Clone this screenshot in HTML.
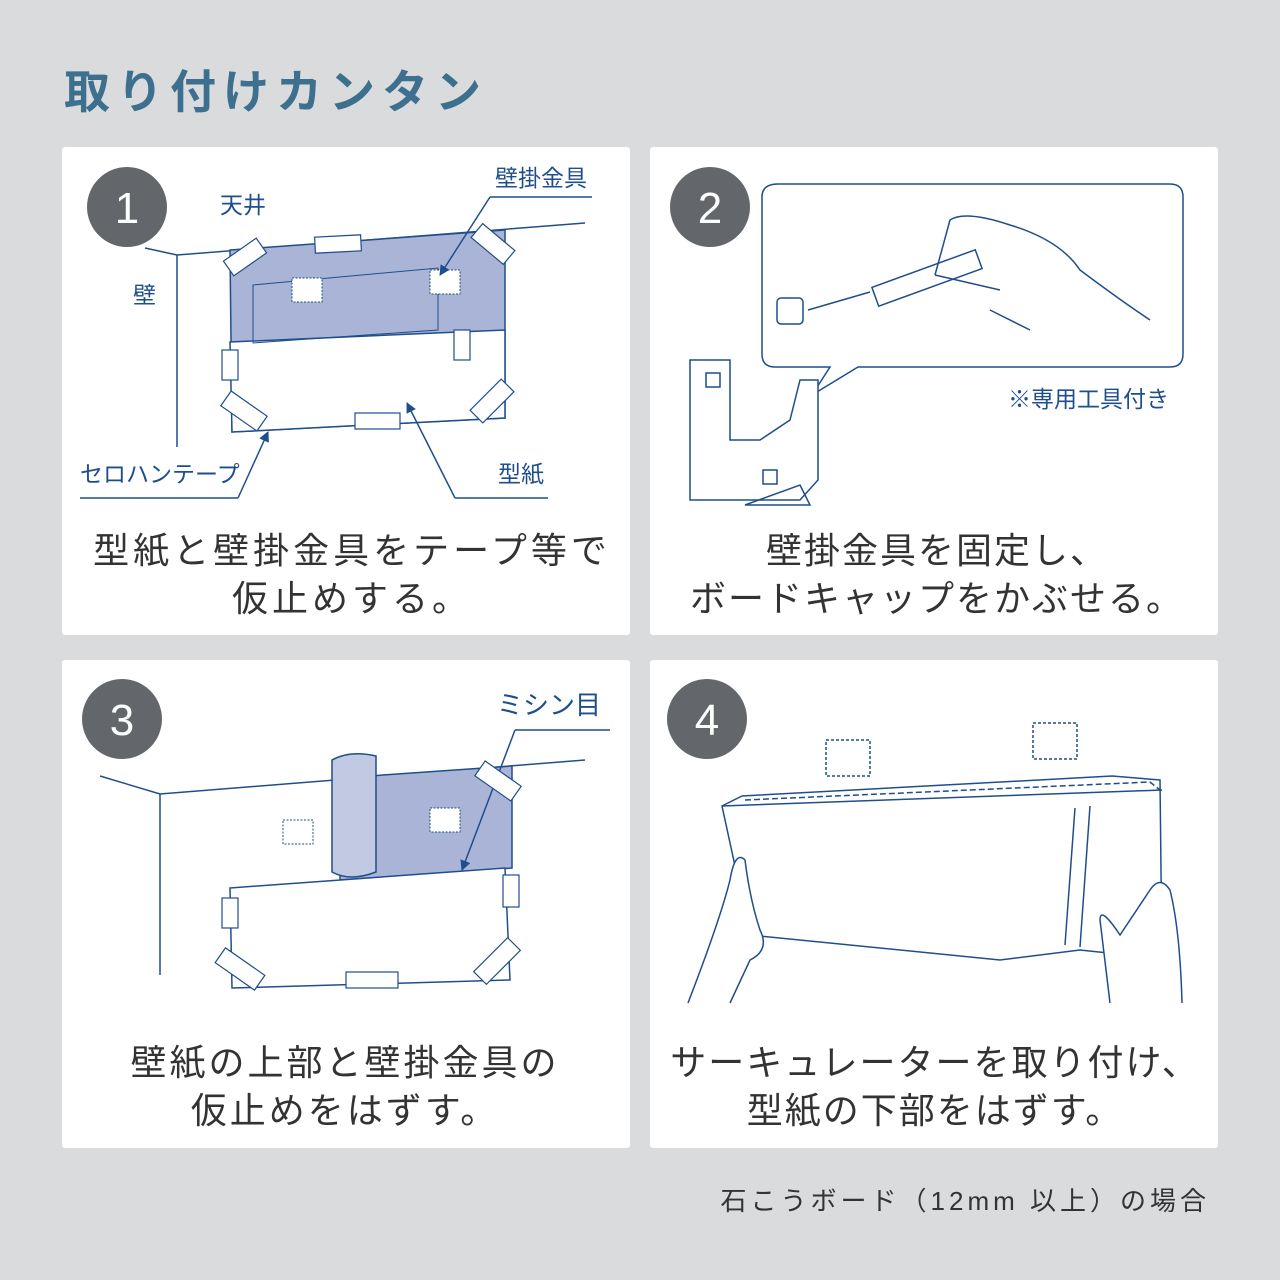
<!DOCTYPE html>
<html><head><meta charset="utf-8"><style>
html,body{margin:0;padding:0;background:#dadbdd;}
svg{display:block}
text{font-family:"Liberation Sans","Noto Sans CJK JP",sans-serif;}
</style></head><body>
<svg width="1280" height="1280" viewBox="0 0 1280 1280" xmlns="http://www.w3.org/2000/svg">
<defs><marker id="ah" viewBox="0 0 10 10" refX="9" refY="5" markerWidth="7" markerHeight="7" orient="auto"><path d="M0,0 L10,5 L0,10 Z" fill="#1f4e8c"/></marker></defs>
<rect width="1280" height="1280" fill="#dadbdd"/>
<text x="64" y="108" font-size="46" font-weight="bold" fill="#3d6f8f" letter-spacing="7">取り付けカンタン</text>

<g fill="#fff">
<rect x="62" y="147" width="568" height="488" rx="3"/>
<rect x="650" y="147" width="568" height="488" rx="3"/>
<rect x="62" y="660" width="568" height="488" rx="3"/>
<rect x="650" y="660" width="568" height="488" rx="3"/>
</g>
<g fill="#63676b">
<circle cx="127" cy="207" r="40"/><circle cx="710" cy="207" r="40"/>
<circle cx="122" cy="719" r="40"/><circle cx="707" cy="719" r="40"/>
</g>
<g fill="#fff" font-size="44" text-anchor="middle">
<text x="127" y="223">1</text><text x="710" y="223">2</text>
<text x="122" y="735">3</text><text x="707" y="735">4</text>
</g>

<!-- Panel 1 -->
<g stroke="#1f4e8c" stroke-width="1.5" fill="none">
<polyline points="145,248 177,255 585,223"/>
<line x1="177" y1="255" x2="177" y2="447"/>
<polygon points="230,250 505,230 505,418 232,432" fill="#aab4d6"/>
<path d="M230,342 L505,330 L505,418 L232,432 Z" fill="#fff"/>
<polygon points="253,285 438,268 438,330 253,343" stroke-width="1"/>
<g fill="#fff" stroke-width="1" stroke-dasharray="2,1.5"><rect x="292" y="278" width="30" height="24"/><rect x="430" y="270" width="30" height="24"/></g>
<line x1="490" y1="197" x2="592" y2="197"/><line x1="490" y1="197" x2="440" y2="275" marker-end="url(#ah)"/>
<line x1="80" y1="498" x2="238" y2="498"/><line x1="238" y1="498" x2="268" y2="432" marker-end="url(#ah)"/>
<line x1="455" y1="498" x2="548" y2="498"/><line x1="455" y1="498" x2="407" y2="403" marker-end="url(#ah)"/>
<g fill="#fff" stroke-width="1.2">
<rect x="315" y="236" width="46" height="16" transform="rotate(-3 338 244)"/>
<rect x="225" y="248" width="40" height="18" transform="rotate(-35 245 257)"/>
<rect x="472" y="235" width="42" height="18" transform="rotate(40 493 244)"/>
<rect x="222" y="350" width="16" height="30"/><rect x="454" y="330" width="16" height="30"/>
<rect x="222" y="402" width="44" height="18" transform="rotate(35 244 411)"/>
<rect x="470" y="392" width="44" height="18" transform="rotate(-45 492 401)"/>
<rect x="355" y="413" width="45" height="16"/>
</g>
</g>
<g fill="#1f4e8c" font-size="23">
<text x="220" y="213">天井</text><text x="133" y="303">壁</text>
<text x="495" y="186">壁掛金具</text><text x="80" y="482">セロハンテープ</text>
<text x="498" y="482">型紙</text>
</g>
<g fill="#333" font-size="36" text-anchor="middle" letter-spacing="4">
<text x="352" y="563">型紙と壁掛金具をテープ等で</text>
<text x="352" y="611">仮止めする。</text>
</g>

<!-- Panel 2 -->
<g stroke="#1f4e8c" stroke-width="1.5" fill="none">
<path d="M778,184 H1170 Q1183,184 1183,197 V354 Q1183,367 1170,367 H858 L812,395 L830,367 H775 Q762,367 762,354 V197 Q762,184 778,184 Z" fill="#fff"/>
<path d="M935,275 L950,220 Q965,210 1010,225 Q1060,240 1080,270 Q1120,300 1150,320 M935,275 L1000,290 M990,310 L1030,330"/>
<rect x="872" y="268" width="110" height="20" transform="rotate(-20 927 278)"/>
<line x1="870" y1="292" x2="808" y2="310"/>
<rect x="777" y="298" width="26" height="26" rx="4"/>
<path d="M690,360 H730 V440 H760 L790,420 L800,380 H818 V480 L800,500 H690 Z" fill="#fff"/>
<rect x="706" y="373" width="14" height="14"/><rect x="763" y="470" width="14" height="14"/>
<path d="M745,505 L800,485 L810,505 Z"/>
</g>
<text x="1008" y="407" fill="#1f4e8c" font-size="23">※専用工具付き</text>
<g fill="#333" font-size="36" text-anchor="middle" letter-spacing="2">
<text x="937" y="563">壁掛金具を固定し、</text>
<text x="937" y="611">ボードキャップをかぶせる。</text>
</g>

<!-- Panel 3 -->
<g stroke="#1f4e8c" stroke-width="1.5" fill="none">
<polyline points="100,776 160,794 585,760"/>
<line x1="160" y1="794" x2="160" y2="975"/>
<polygon points="340,778 512,766 512,868 340,880" fill="#aab4d6"/>
<path d="M332,760 Q350,750 376,756 L376,872 Q350,882 332,872 Z" fill="#c2c9e3"/>
<g stroke-width="1" stroke-dasharray="2,1.5"><rect x="283" y="820" width="30" height="24" fill="#fff"/><rect x="430" y="808" width="30" height="24" fill="#fff"/></g>
<polygon points="230,888 505,868 510,980 232,988" fill="#fff"/>
<line x1="515" y1="730" x2="610" y2="730"/><line x1="515" y1="730" x2="462" y2="870" marker-end="url(#ah)"/>
<g fill="#fff" stroke-width="1.2">
<rect x="476" y="772" width="44" height="18" transform="rotate(35 498 781)"/>
<rect x="222" y="898" width="16" height="30"/><rect x="503" y="875" width="16" height="32"/>
<rect x="216" y="960" width="48" height="18" transform="rotate(35 240 969)"/>
<rect x="473" y="952" width="48" height="18" transform="rotate(-45 497 961)"/>
<rect x="346" y="972" width="52" height="16"/>
</g>
</g>
<text x="497" y="714" fill="#1f4e8c" font-size="26">ミシン目</text>
<g fill="#333" font-size="36" text-anchor="middle" letter-spacing="3">
<text x="345" y="1075">壁紙の上部と壁掛金具の</text>
<text x="345" y="1123">仮止めをはずす。</text>
</g>

<!-- Panel 4 -->
<g stroke="#1f4e8c" stroke-width="1.5" fill="none">
<rect x="826" y="740" width="44" height="36" stroke-dasharray="3,2"/>
<rect x="1033" y="723" width="44" height="36" stroke-dasharray="3,2"/>
<path d="M722,806 L742,796 L1112,776 L1160,780 L1162,960 L1118,954 L1080,950 L1000,960 L750,935 Z" fill="#fff"/>
<path d="M722,806 L1162,790" />
<path d="M745,800 L1150,782 L1160,790" stroke-dasharray="6,3"/>
<line x1="1075" y1="808" x2="1065" y2="945"/><line x1="1090" y1="806" x2="1080" y2="947"/>
<path d="M688,1003 Q720,920 730,880 Q735,850 745,860 Q750,900 760,930 Q770,950 750,960 L730,1003" fill="#fff"/>
<path d="M1182,1003 Q1180,930 1170,890 Q1160,875 1150,890 L1120,935 Q1100,905 1100,920 Q1105,960 1110,1003" fill="#fff"/>
</g>
<g fill="#333" font-size="36" text-anchor="middle" letter-spacing="2">
<text x="935" y="1075">サーキュレーターを取り付け、</text>
<text x="935" y="1123">型紙の下部をはずす。</text>
</g>

<text x="1210" y="1210" text-anchor="end" fill="#333" font-size="26" letter-spacing="4">石こうボード（12mm 以上）の場合</text>
</svg>
</body></html>
